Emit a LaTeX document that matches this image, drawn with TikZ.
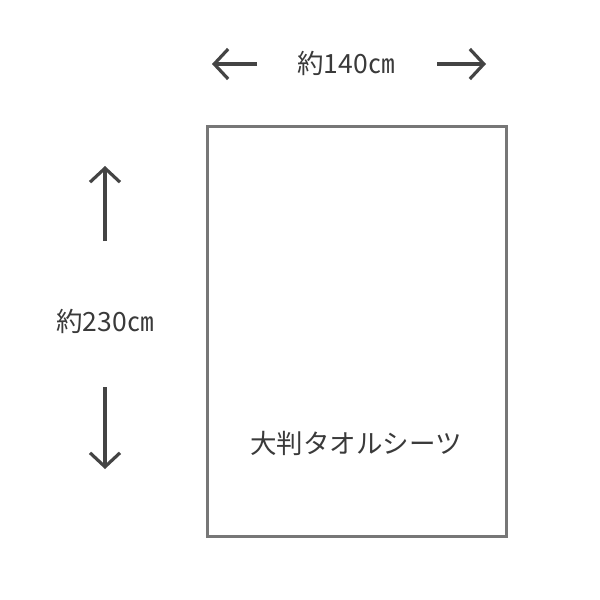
\documentclass[tikz,border=0pt]{standalone}
\usepackage{fontspec}
\newfontfamily\cjk{Noto Sans CJK JP}
\usetikzlibrary{arrows.meta}
\definecolor{txt}{HTML}{3A3A3A}
\definecolor{arr}{HTML}{444444}
\definecolor{frame}{HTML}{777777}
\begin{document}
\begin{tikzpicture}[x=1pt,y=-1pt,
  dimarrow/.style={draw=arr,line width=3.2pt,-{Straight Barb[length=14pt,width=30pt,line width=3.2pt]}},
  dimlabel/.style={text=txt,font=\cjk\fontsize{26.5}{26.5}\selectfont,inner sep=0pt},
  sheet/.style={draw=frame,line width=3pt,fill=white}]
\useasboundingbox (0,0) rectangle (600,600);
\node[sheet,minimum width=299pt,minimum height=410pt,inner sep=0pt] (box) at (356.5,331) {};
\node[text=txt,font=\cjk\fontsize{26.5}{26.5}\selectfont,inner sep=0pt] (name) at (356,443) {大判タオルシーツ};
\node[dimlabel] (w) at (346,63) {約140㎝};
\node[dimlabel] (h) at (105,321) {約230㎝};
\coordinate (wl0) at (257,64); \coordinate (wl1) at (212,64);
\coordinate (wr0) at (437,64); \coordinate (wr1) at (486,64);
\coordinate (hu0) at (105,241); \coordinate (hu1) at (105,166);
\coordinate (hd0) at (105,387); \coordinate (hd1) at (105,469);
\draw[dimarrow] (wl0) -- (wl1);
\draw[dimarrow] (wr0) -- (wr1);
\draw[dimarrow] (hu0) -- (hu1);
\draw[dimarrow] (hd0) -- (hd1);
\end{tikzpicture}
\end{document}
